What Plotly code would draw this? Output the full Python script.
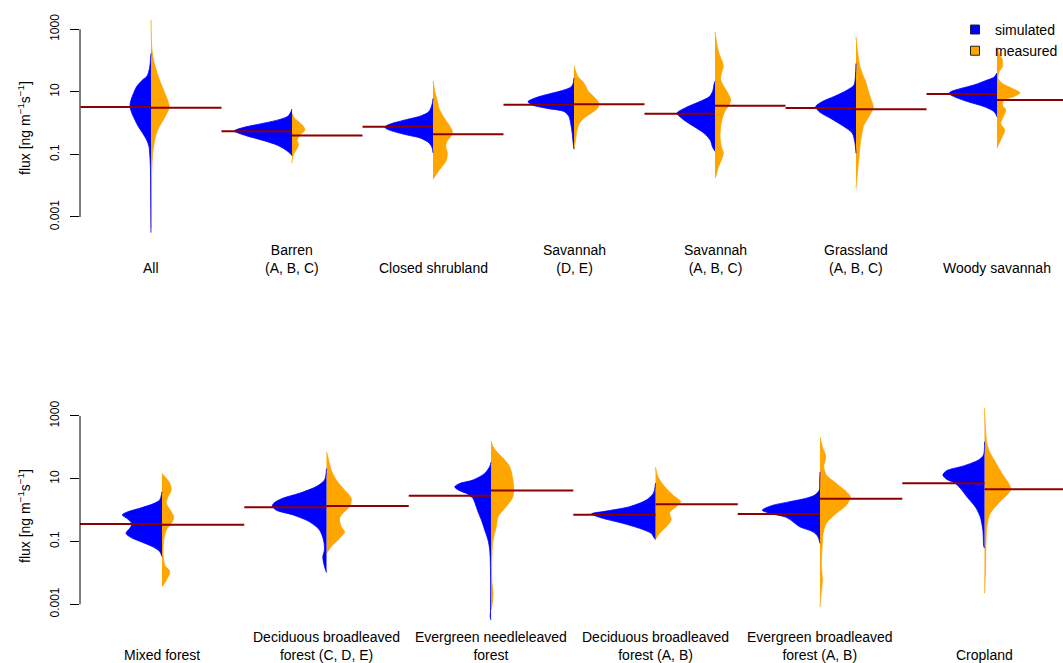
import plotly.graph_objects as go

FONT = "Liberation Sans, Arial, Helvetica, sans-serif"
SIM_COLOR = "#0000FF"
MEAS_COLOR = "#FFA500"
MEDIAN_COLOR = "#8B0000"

# ---------------------------------------------------------------------------
# Bean outlines: (log10 flux, relative density) pairs for each half bean.
# ---------------------------------------------------------------------------
ALL_SIM = [(-3.50, 0), (-2.46, 0.3), (-1.39, 0.6), (-0.96, 1.3), (-0.75, 2), (-0.54, 4.3),
           (-0.32, 8.3), (-0.11, 12.7), (0.10, 16), (0.31, 19), (0.53, 21), (0.74, 20),
           (0.95, 17.5), (1.17, 14.3), (1.38, 8.5), (1.48, 4.5), (1.62, 2.5), (1.80, 1.2),
           (2.00, 0.6), (2.23, 0)]
ALL_MEAS = [(-3.35, 0), (-2.46, 0.4), (-1.59, 0.7), (-0.96, 1.7), (-0.54, 3.7), (-0.32, 5.5),
            (-0.11, 8.3), (0.10, 12.2), (0.31, 15.7), (0.52, 18.3), (0.74, 16.5), (1.06, 12.5),
            (1.38, 8.5), (1.80, 4.3), (2.02, 2.5), (2.34, 1.0), (2.70, 0.4), (3.30, 0)]
BARREN_SIM = [(-1.04, 0), (-0.96, 2), (-0.84, 7), (-0.70, 15), (-0.56, 28), (-0.41, 45),
              (-0.30, 55), (-0.25, 58), (-0.20, 55), (-0.11, 45), (0.00, 28), (0.12, 12),
              (0.23, 3.7), (0.37, 1), (0.45, 0)]
BARREN_MEAS = [(-1.28, 0), (-1.10, 0.5), (-0.96, 2), (-0.84, 4.5), (-0.68, 6.5), (-0.56, 5),
               (-0.45, 6.5), (-0.33, 9.5), (-0.22, 13), (-0.09, 11), (0.04, 7), (0.16, 2.5),
               (0.32, 0)]
CLOSED_SIM = [(-0.95, 0), (-0.80, 0.7), (-0.63, 4), (-0.48, 12.3), (-0.38, 25.7), (-0.27, 39),
              (-0.19, 46), (-0.14, 48), (-0.09, 47), (0.01, 39), (0.12, 25.7), (0.23, 12.3),
              (0.37, 4), (0.63, 0.7), (0.79, 0)]
CLOSED_MEAS = [(-1.79, 0), (-1.66, 2.7), (-1.44, 7.7), (-1.23, 12.7), (-0.96, 14.3), (-0.75, 12.7),
               (-0.59, 13.7), (-0.43, 17.7), (-0.27, 19.3), (-0.06, 16), (0.10, 12.5), (0.26, 9.3),
               (0.48, 6), (0.74, 4), (1.06, 1.5), (1.35, 0)]
SAV_DE_SIM = [(-0.83, 0), (-0.64, 0.8), (-0.32, 1.8), (-0.01, 3.3), (0.21, 5), (0.37, 10),
              (0.47, 26.7), (0.58, 41.7), (0.68, 46), (0.72, 45), (0.83, 36.7), (0.95, 23),
              (1.06, 10), (1.15, 3.3), (1.25, 1), (1.45, 0)]
SAV_DE_MEAS = [(-0.84, 0), (-0.54, 1.5), (-0.22, 3), (0.00, 5.5), (0.16, 10), (0.31, 16.7),
               (0.47, 23.3), (0.63, 25), (0.77, 22), (0.90, 18), (1.03, 14), (1.16, 12),
               (1.32, 9), (1.48, 4), (1.63, 2), (1.83, 0)]
SAV_ABC_SIM = [(-0.90, 0), (-0.77, 2.4), (-0.54, 4.8), (-0.32, 11.1), (-0.10, 21.5), (0.12, 31.9),
               (0.29, 37.7), (0.34, 37.7), (0.51, 28.4), (0.70, 14.5), (0.84, 5.9), (1.01, 2.4),
               (1.28, 0.7), (1.34, 0)]
SAV_ABC_MEAS = [(-1.76, 0), (-1.71, 0.7), (-1.44, 3), (-1.18, 6.3), (-0.96, 8.3), (-0.75, 6.3),
                (-0.43, 5), (-0.11, 5.7), (0.15, 7.3), (0.37, 9.7), (0.58, 14), (0.74, 15.7),
                (0.95, 13), (1.16, 9), (1.38, 5.7), (1.59, 6.3), (1.80, 8.3), (1.96, 7.3),
                (2.23, 4), (2.55, 1.7), (2.92, 0)]
GRASS_SIM = [(-0.96, 0), (-0.64, 1), (-0.32, 3.7), (-0.11, 12), (0.15, 25.3), (0.37, 37),
             (0.53, 40.3), (0.69, 33.7), (0.85, 22), (1.06, 8.7), (1.22, 2), (1.54, 0.5), (1.91, 0)]
GRASS_MEAS = [(-2.08, 0), (-1.82, 0.7), (-1.39, 2), (-0.96, 3.3), (-0.54, 4.7), (-0.27, 6.3),
              (-0.11, 7.3), (0.10, 10.7), (0.31, 14.7), (0.51, 17.3), (0.79, 14.7), (1.06, 12),
              (1.32, 9.7), (1.59, 6.3), (1.80, 4), (2.34, 1.3), (2.76, 0)]
WOODY_SIM = [(0.20, 0), (0.26, 0.7), (0.37, 3), (0.53, 13), (0.69, 29.7), (0.85, 43), (0.95, 48),
             (1.01, 46), (1.11, 36), (1.22, 23), (1.38, 9.7), (1.47, 3), (1.60, 0)]
WOODY_MEAS = [(-0.80, 0), (-0.70, 1.3), (-0.43, 5.3), (-0.22, 7.7), (-0.01, 3.7), (0.21, 6.3),
              (0.42, 8.7), (0.58, 5.3), (0.74, 7), (0.85, 17), (0.97, 23), (1.11, 15.3),
              (1.27, 5.3), (1.43, 1), (1.64, 2), (1.80, 5.3), (2.02, 5.3), (2.23, 2), (2.44, 0)]

MIXED_SIM = [(-1.48, 0), (-1.32, 2.3), (-1.17, 9), (-1.02, 20), (-0.89, 30), (-0.74, 36),
             (-0.57, 32), (-0.44, 30), (-0.29, 34), (-0.15, 39.7), (-0.05, 34), (0.06, 22.3),
             (0.20, 9), (0.32, 2.3), (0.59, 0)]
MIXED_MEAS = [(-2.44, 0), (-2.23, 4.3), (-1.96, 7.7), (-1.75, 2.7), (-1.38, 1), (-0.95, 1.7),
              (-0.63, 4.3), (-0.42, 9.3), (-0.23, 11.7), (-0.05, 9.3), (0.22, 4.3), (0.43, 6),
              (0.64, 9.3), (0.86, 7.7), (1.07, 2.7), (1.17, 0)]
DBF_CDE_SIM = [(-1.99, 0), (-1.80, 2), (-1.48, 3.7), (-1.27, 2), (-0.95, 3), (-0.63, 7),
               (-0.37, 17), (-0.15, 33.7), (0.00, 50.3), (0.13, 54.3), (0.24, 52), (0.38, 43.7),
               (0.54, 27), (0.75, 10.3), (0.96, 2), (1.33, 0)]
DBF_CDE_MEAS = [(-1.37, 0), (-1.32, 1.3), (-1.16, 4.7), (-0.90, 13), (-0.69, 18), (-0.53, 14.7),
                (-0.26, 13), (-0.10, 16.3), (0.11, 23), (0.38, 24.7), (0.64, 18), (0.96, 9.7),
                (1.28, 4.7), (1.70, 1.3), (1.86, 0)]
ENF_SIM = [(-3.50, 0), (-3.40, 0.8), (-3.20, 0.5), (-1.91, 0.5), (-1.27, 1.3), (-0.95, 3),
           (-0.63, 6.3), (-0.31, 9.7), (-0.05, 13), (0.16, 15.3), (0.37, 18), (0.51, 23),
           (0.62, 31.3), (0.74, 36.3), (0.85, 31.3), (0.96, 18), (1.17, 6.3), (1.39, 1.3), (1.53, 0)]
ENF_MEAS = [(-3.18, 0), (-3.08, 0.7), (-2.68, 2), (-2.23, 0.7), (-1.16, 1.3), (-0.85, 2.7),
            (-0.53, 5.3), (-0.21, 7), (0.06, 13.7), (0.38, 21.3), (0.64, 22.7), (1.07, 21.3),
            (1.38, 18.7), (1.60, 13.7), (1.81, 7), (2.02, 2), (2.20, 0)]
DBF_AB_SIM = [(-0.93, 0), (-0.90, 1), (-0.74, 4.3), (-0.58, 16), (-0.42, 32.7), (-0.26, 52.7),
              (-0.12, 64), (-0.03, 49.3), (0.11, 26), (0.32, 9.3), (0.54, 2), (0.86, 0)]
DBF_AB_MEAS = [(-0.93, 0), (-0.74, 4), (-0.53, 10.7), (-0.31, 15.7), (-0.08, 14), (0.11, 20.7),
               (0.27, 25), (0.48, 17.3), (0.75, 9), (1.07, 2.3), (1.37, 0)]
EBF_SIM = [(-1.06, 0), (-0.85, 2), (-0.69, 7), (-0.53, 20.3), (-0.37, 27), (-0.23, 33.7),
           (-0.10, 50.3), (0.00, 57.7), (0.14, 48.7), (0.27, 30.3), (0.38, 13.7), (0.48, 5.3),
           (0.64, 0.7), (0.90, 0.4), (1.22, 0)]
EBF_MEAS = [(-3.08, 0), (-2.76, 0.7), (-2.23, 2.3), (-1.69, 1.3), (-1.06, 2.3), (-0.74, 3),
            (-0.42, 6.3), (-0.10, 16.3), (0.16, 26.3), (0.43, 30.3), (0.59, 26.3), (0.85, 16.3),
            (1.12, 6.3), (1.38, 3.7), (1.70, 5.7), (2.02, 2.3), (2.32, 0)]
CROP_SIM = [(-1.21, 0), (-1.16, 0.7), (-0.63, 1.7), (-0.21, 4.3), (0.11, 9.3), (0.43, 17.7),
            (0.64, 22.7), (0.86, 29.3), (0.98, 37.7), (1.12, 41.7), (1.26, 37.7), (1.41, 21),
            (1.60, 6), (1.76, 1), (2.18, 0)]
CROP_MEAS = [(-2.65, 0), (-1.80, 1), (-1.16, 1.3), (-0.53, 2.3), (-0.10, 5.7), (0.22, 14),
             (0.48, 22.3), (0.66, 26.3), (0.86, 24), (1.17, 17.3), (1.54, 10.7), (1.86, 5),
             (2.13, 2.3), (2.55, 1), (3.25, 0)]

# ---------------------------------------------------------------------------
# Categories and medians (ng m-1 s-1)
# ---------------------------------------------------------------------------
top_labels = ["All", "Barren<br>(A, B, C)", "Closed shrubland", "Savannah<br>(D, E)",
              "Savannah<br>(A, B, C)", "Grassland<br>(A, B, C)", "Woody savannah"]
top_sim = [ALL_SIM, BARREN_SIM, CLOSED_SIM, SAV_DE_SIM, SAV_ABC_SIM, GRASS_SIM, WOODY_SIM]
top_meas = [ALL_MEAS, BARREN_MEAS, CLOSED_MEAS, SAV_DE_MEAS, SAV_ABC_MEAS, GRASS_MEAS, WOODY_MEAS]
top_sim_median = [3.3, 0.55, 0.77, 3.9, 2.0, 3.05, 8.5]
top_meas_median = [3.1, 0.40, 0.44, 4.0, 3.6, 2.77, 5.5]

bottom_labels = ["Mixed forest", "Deciduous broadleaved<br>forest (C, D, E)",
                 "Evergreen needleleaved<br>forest", "Deciduous broadleaved<br>forest (A, B)",
                 "Evergreen broadleaved<br>forest (A, B)", "Cropland"]
bottom_sim = [MIXED_SIM, DBF_CDE_SIM, ENF_SIM, DBF_AB_SIM, EBF_SIM, CROP_SIM]
bottom_meas = [MIXED_MEAS, DBF_CDE_MEAS, ENF_MEAS, DBF_AB_MEAS, EBF_MEAS, CROP_MEAS]
bottom_sim_median = [0.36, 1.23, 2.9, 0.71, 0.76, 7.2]
bottom_meas_median = [0.34, 1.35, 4.2, 1.55, 2.3, 4.6]

tick_values = [0.001, 0.1, 10, 1000]
tick_text = ["0.001", "0.1", "10", "1000"]

# half-width (in category units) per unit of relative density
DENSITY_SCALE_TOP = 0.5 / 70.5
DENSITY_SCALE_BOTTOM = 0.5 / 82.25

X_DOMAIN_START = 80 / 1063

fig = go.Figure()


def add_half_bean(center, profile, side, scale, color, xa, ya):
    ys = [10 ** p[0] for p in profile]
    sign = -1 if side == "left" else 1
    xs = [center + sign * p[1] * scale for p in profile]
    # straight spine of the bean
    fig.add_trace(go.Scatter(x=[center, center], y=[ys[0], ys[-1]], mode="lines",
                             line=dict(width=0, color=color), xaxis=xa, yaxis=ya,
                             showlegend=False, hoverinfo="skip"))
    # smooth outline filled back to the spine
    fig.add_trace(go.Scatter(x=xs, y=ys, mode="lines",
                             line=dict(width=0.8, color=color, shape="spline", smoothing=0.8),
                             fill="tonextx", fillcolor=color, xaxis=xa, yaxis=ya,
                             showlegend=False, hoverinfo="skip"))


def add_panel(sims, meas, sim_med, meas_med, scale, xa, ya):
    for i, (s, m) in enumerate(zip(sims, meas)):
        c = i + 1
        add_half_bean(c, m, "right", scale, MEAS_COLOR, xa, ya)
        add_half_bean(c, s, "left", scale, SIM_COLOR, xa, ya)
    sx, sy, mx, my = [], [], [], []
    for i, (a, b) in enumerate(zip(sim_med, meas_med)):
        c = i + 1
        sx += [c - 0.5, c, None]
        sy += [a, a, None]
        mx += [c, c + 0.5, None]
        my += [b, b, None]
    for xx, yy in ((sx, sy), (mx, my)):
        fig.add_trace(go.Scatter(x=xx, y=yy, mode="lines",
                                 line=dict(color=MEDIAN_COLOR, width=2),
                                 xaxis=xa, yaxis=ya, showlegend=False, hoverinfo="skip"))


add_panel(top_sim, top_meas, top_sim_median, top_meas_median, DENSITY_SCALE_TOP, "x", "y")
add_panel(bottom_sim, bottom_meas, bottom_sim_median, bottom_meas_median,
          DENSITY_SCALE_BOTTOM, "x2", "y2")

# legend entries
for name, col in (("simulated", SIM_COLOR), ("measured", MEAS_COLOR)):
    fig.add_trace(go.Scatter(x=[None], y=[None], mode="markers", name=name,
                             marker=dict(symbol="square", size=9, color=col,
                                         line=dict(color="#222222", width=1)),
                             xaxis="x", yaxis="y"))

yaxis_common = dict(type="log", tickvals=tick_values, ticktext=tick_text, ticks="outside",
                    ticklen=9, tickwidth=1, tickcolor="black", tickangle=-90,
                    ticklabelstandoff=6,
                    tickfont=dict(family=FONT, size=12, color="black"),
                    showgrid=False, zeroline=False, showline=False, automargin=False)
xaxis_common = dict(showgrid=False, zeroline=False, showline=False, showticklabels=False,
                    ticks="", automargin=False)

fig.update_layout(
    width=1063, height=663,
    margin=dict(l=0, r=0, t=0, b=0),
    paper_bgcolor="white", plot_bgcolor="white",
    font=dict(family=FONT, size=12, color="black"),
    xaxis=dict(domain=[X_DOMAIN_START, 1], range=[0.4965, 7.468], anchor="y", **xaxis_common),
    yaxis=dict(domain=[0.63801, 1], range=[-3.736, 3.937], anchor="x", **yaxis_common),
    xaxis2=dict(domain=[X_DOMAIN_START, 1], range=[0.5015, 6.477], anchor="y2", **xaxis_common),
    yaxis2=dict(domain=[0.05732, 0.41931], range=[-3.660, 3.988], anchor="x2", **yaxis_common),
    showlegend=True,
    legend=dict(x=1, y=0.979, xanchor="right", yanchor="top", bgcolor="rgba(0,0,0,0)",
                traceorder="normal", borderwidth=0,
                font=dict(family=FONT, size=14, color="black"), tracegroupgap=0),
)

# y-axis lines spanning the labelled decades
for ya in ("y", "y2"):
    fig.add_shape(type="line", xref="paper", yref=ya, x0=X_DOMAIN_START, x1=X_DOMAIN_START,
                  y0=tick_values[0], y1=tick_values[-1], line=dict(color="black", width=1))

# axis titles
for ypos in ((663 - 128) / 663, (663 - 516) / 663):
    fig.add_annotation(text="flux [ng m<sup>\u22121</sup>s<sup>\u22121</sup>]", textangle=-90,
                       xref="paper", yref="paper", x=24 / 1063, y=ypos, showarrow=False,
                       xanchor="center", yanchor="middle",
                       font=dict(family=FONT, size=14, color="black"))

# category labels
for i, lab in enumerate(top_labels):
    fig.add_annotation(text=lab, xref="x", yref="paper", x=i + 1, y=(663 - 278) / 663,
                       showarrow=False, xanchor="center", yanchor="bottom",
                       font=dict(family=FONT, size=14, color="black"))
for i, lab in enumerate(bottom_labels):
    fig.add_annotation(text=lab, xref="x2", yref="paper", x=i + 1, y=(663 - 665) / 663,
                       showarrow=False, xanchor="center", yanchor="bottom",
                       font=dict(family=FONT, size=14, color="black"))

fig.write_html("out.html")
